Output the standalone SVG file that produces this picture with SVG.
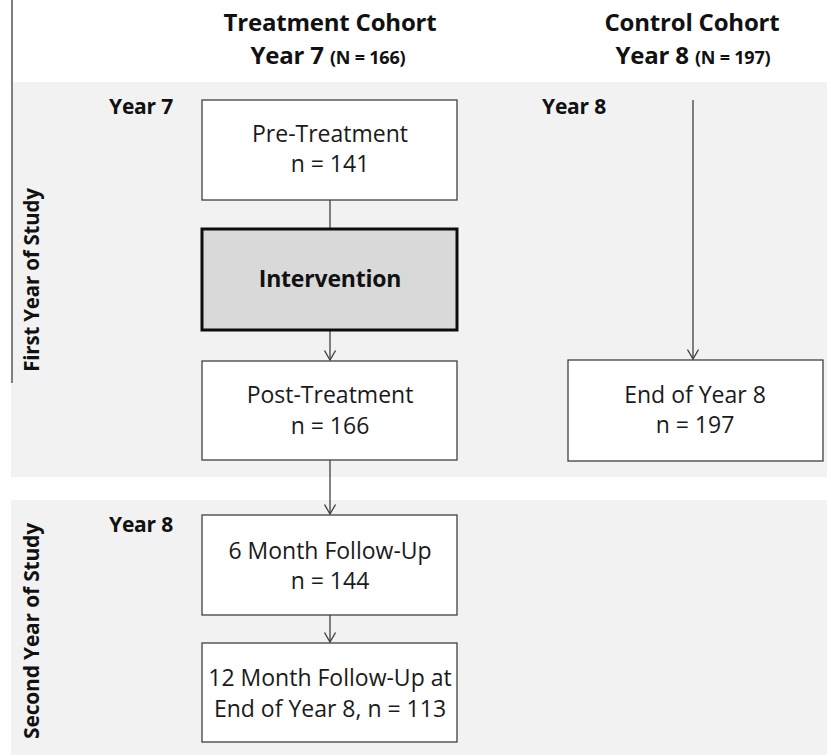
<svg xmlns="http://www.w3.org/2000/svg" width="827" height="755" viewBox="0 0 827 755">
<defs>
<style>
.band{fill:#f2f2f2}
.box{fill:#ffffff;stroke:#404040;stroke-width:1.3}
.boxi{fill:#d9d9d9;stroke:#0d0d0d;stroke-width:3}
.t{font-family:"Open Sans","Liberation Sans",sans-serif;font-size:23px;fill:#1a1a1a;text-anchor:middle}
.b{font-family:"Open Sans","Liberation Sans",sans-serif;font-weight:bold;fill:#111;text-anchor:middle;letter-spacing:-0.2px}
.c{stroke:#404040;stroke-width:1.3;fill:none}
</style>
<marker id="arr" viewBox="0 0 12 12" refX="11" refY="6" markerWidth="12" markerHeight="12" markerUnits="userSpaceOnUse" orient="auto">
<path d="M1.5,0.5 L11,6 L1.5,11.5" fill="none" stroke="#404040" stroke-width="1.3"/>
</marker>
</defs>
<rect width="827" height="755" fill="#ffffff"/>
<rect class="band" x="11" y="82" width="816" height="395"/>
<rect class="band" x="11" y="500" width="816" height="255"/>
<line x1="12" y1="0" x2="12" y2="383" stroke="#7f7f7f" stroke-width="2"/>

<g id="header-treatment">
<text class="b" x="330" y="31" font-size="24">Treatment Cohort</text>
<text class="b" x="328" y="64" font-size="24">Year 7 <tspan font-size="18">(N = 166)</tspan></text>
</g>
<g id="header-control">
<text class="b" x="692" y="31" font-size="24">Control Cohort</text>
<text class="b" x="693" y="64" font-size="24">Year 8 <tspan font-size="18">(N = 197)</tspan></text>
</g>
<g id="label-year7"><text class="b" x="141" y="114" font-size="21">Year 7</text></g>
<g id="label-year8-control"><text class="b" x="574" y="114" font-size="21">Year 8</text></g>
<g id="label-year8-second"><text class="b" x="141" y="532" font-size="21">Year 8</text></g>
<g id="label-first-year"><text class="b" font-size="20.5" transform="translate(39,280) rotate(-90)">First Year of Study</text></g>
<g id="label-second-year"><text class="b" font-size="21" transform="translate(39,631) rotate(-90)">Second Year of Study</text></g>

<g id="connectors">
<line class="c" x1="330" y1="200" x2="330" y2="229"/>
<line class="c" x1="330" y1="330" x2="330" y2="360" marker-end="url(#arr)"/>
<line class="c" x1="330" y1="460" x2="330" y2="514" marker-end="url(#arr)"/>
<line class="c" x1="330" y1="615" x2="330" y2="642" marker-end="url(#arr)"/>
<line class="c" x1="693" y1="100" x2="693" y2="359" marker-end="url(#arr)"/>
</g>

<g id="pre-treatment">
<rect class="box" x="202" y="100" width="255" height="100"/>
<text class="t" x="330" y="142">Pre-Treatment</text>
<text class="t" x="330" y="172">n = 141</text>
</g>
<g id="intervention">
<rect class="boxi" x="202" y="229" width="255" height="101"/>
<text class="b" x="330" y="287" font-size="23">Intervention</text>
</g>
<g id="post-treatment">
<rect class="box" x="202" y="361" width="255" height="99"/>
<text class="t" x="330" y="403">Post-Treatment</text>
<text class="t" x="330" y="434">n = 166</text>
</g>
<g id="six-month">
<rect class="box" x="202" y="515" width="255" height="100"/>
<text class="t" x="330" y="559">6 Month Follow-Up</text>
<text class="t" x="330" y="589">n = 144</text>
</g>
<g id="twelve-month">
<rect class="box" x="202" y="643" width="255" height="99"/>
<text class="t" x="330" y="686">12 Month Follow-Up at</text>
<text class="t" x="330" y="717">End of Year 8, n = 113</text>
</g>
<g id="end-year8">
<rect class="box" x="568" y="360" width="255" height="101"/>
<text class="t" x="695" y="403">End of Year 8</text>
<text class="t" x="695" y="433">n = 197</text>
</g>
</svg>
